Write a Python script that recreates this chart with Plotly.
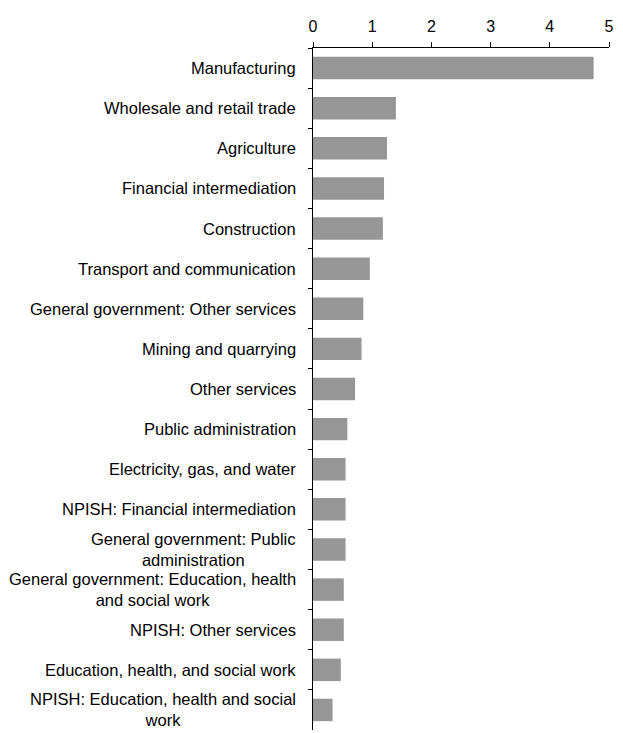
import plotly.graph_objects as go

sectors = [
    "Manufacturing",
    "Wholesale and retail trade",
    "Agriculture",
    "Financial intermediation",
    "Construction",
    "Transport and communication",
    "General government: Other services",
    "Mining and quarrying",
    "Other services",
    "Public administration",
    "Electricity, gas, and water",
    "NPISH: Financial intermediation",
    "General government: Public<br>administration",
    "General government: Education, health<br>and social work",
    "NPISH: Other services",
    "Education, health, and social work",
    "NPISH: Education, health and social<br>work",
]
values = [4.74, 1.40, 1.25, 1.20, 1.18, 0.96, 0.85, 0.82, 0.71, 0.58,
          0.55, 0.55, 0.55, 0.52, 0.52, 0.47, 0.33]
x_ticks = [0, 1, 2, 3, 4, 5]

font = dict(family="Liberation Sans, Arial, sans-serif", size=16, color="black")
label_font = dict(font, size=16.5)

fig = go.Figure(
    go.Bar(
        x=values,
        y=sectors,
        orientation="h",
        width=0.56,
        marker=dict(color="#969696", line=dict(width=0)),
    )
)

# category labels as annotations so wrapped lines can be centred
for s in sectors:
    fig.add_annotation(
        x=0, xref="paper", xanchor="right", xshift=-15,
        y=s, yref="y", yanchor="middle",
        text=s, showarrow=False, align="center", font=label_font,
    )

# page body has an 8px margin, so the figure is a bit smaller than the window
fig.update_layout(
    width=615,
    height=725,
    margin=dict(l=305, r=14, t=40, b=3),
    plot_bgcolor="white",
    paper_bgcolor="white",
    font=font,
    showlegend=False,
)
fig.update_xaxes(
    side="top",
    range=[0, 5],
    tickvals=x_ticks,
    ticks="outside",
    ticklen=5,
    tickcolor="black",
    showline=True,
    linecolor="black",
    linewidth=1,
    showgrid=False,
    zeroline=False,
    tickfont=font,
    ticklabelstandoff=4,
    automargin=False,
)
fig.update_yaxes(
    type="category",
    categoryorder="array",
    categoryarray=sectors,
    range=[16.5, -0.5],
    tickson="boundaries",
    ticks="outside",
    ticklen=4,
    tickcolor="black",
    showticklabels=False,
    showline=True,
    linecolor="black",
    linewidth=1,
    showgrid=False,
    automargin=False,
)

fig.write_html("out.html")
